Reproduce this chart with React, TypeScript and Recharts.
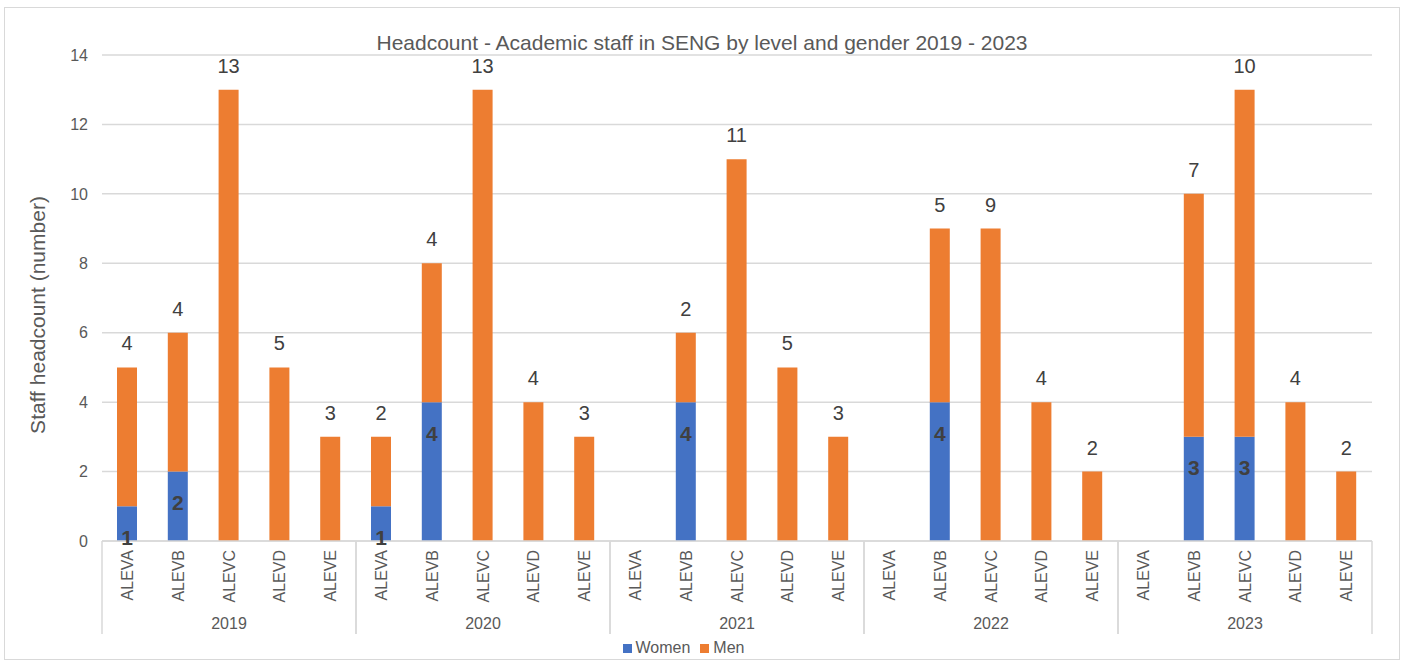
import { Bar, BarChart, CartesianGrid, LabelList, Legend, XAxis, YAxis } from "recharts";

const years = ["2019", "2020", "2021", "2022", "2023"];
const levels = ["ALEVA", "ALEVB", "ALEVC", "ALEVD", "ALEVE"];

// headcount per year, in level order A..E
const women = [
    [1, 2, 0, 0, 0],
    [1, 4, 0, 0, 0],
    [0, 4, 0, 0, 0],
    [0, 4, 0, 0, 0],
    [0, 3, 3, 0, 0],
];
const men = [
    [4, 4, 13, 5, 3],
    [2, 4, 13, 4, 3],
    [0, 2, 11, 5, 3],
    [0, 5, 9, 4, 2],
    [0, 7, 10, 4, 2],
];

const yTicks = [0, 2, 4, 6, 8, 10, 12, 14];
const seriesOrder = ["Women", "Men"];

const data = years.flatMap((year, yi) =>
    levels.map((level, li) => ({
        key: `${year}-${level}`,
        year,
        level,
        Women: women[yi][li] || null,
        Men: men[yi][li] || null,
    }))
);

const FONT = '"Liberation Sans", Arial, sans-serif';
const GRID = "#d9d9d9";
const TEXT = "#595959";

function CategoryTick(props: any) {
    const { x, y, payload, index } = props;
    const half = payload?.offset || 25.4;
    const row = data[index];
    const pos = index % levels.length;
    return (
        <g>
            <text
                x={x}
                y={y + 9}
                transform={`rotate(-90 ${x} ${y + 9})`}
                textAnchor="end"
                dominantBaseline="central"
                fill={TEXT}
                fontSize={16}
                fontFamily={FONT}
            >
                {row.level}
            </text>
            {pos === 0 && <line x1={x - half} x2={x - half} y1={y} y2={y + 93} stroke={GRID} strokeWidth={1.5} />}
            {pos === levels.length - 1 && (
                <line x1={x + half} x2={x + half} y1={y} y2={y + 93} stroke={GRID} strokeWidth={1.5} />
            )}
            {pos === 2 && (
                <text x={x} y={y + 82} textAnchor="middle" dominantBaseline="central" fill={TEXT} fontSize={16} fontFamily={FONT}>
                    {row.year}
                </text>
            )}
        </g>
    );
}

function MenLabel(props: any) {
    const { x, y, width, value } = props;
    if (!value) return null;
    return (
        <text x={x + width / 2} y={y - 24} textAnchor="middle" dominantBaseline="central" fill="#404040" fontSize={20} fontFamily={FONT}>
            {value}
        </text>
    );
}

function WomenLabel(props: any) {
    const { x, y, width, value } = props;
    if (!value) return null;
    return (
        <text
            x={x + width / 2}
            y={y + 31}
            textAnchor="middle"
            dominantBaseline="central"
            fill="#404040"
            fontSize={21}
            fontWeight="bold"
            fontFamily={FONT}
        >
            {value}
        </text>
    );
}

function AxisTitle(props: any) {
    const vb = props.viewBox || { y: 47, height: 486 };
    const cy = vb.y + vb.height / 2 + 17;
    return (
        <text x={32} y={cy} transform={`rotate(-90 32 ${cy})`} textAnchor="middle" dominantBaseline="central" fill={TEXT} fontSize={21} fontFamily={FONT}>
            Staff headcount (number)
        </text>
    );
}

export default function App() {
    return (
        <div
            style={{
                position: "absolute",
                left: 4,
                top: 7,
                width: 1396,
                height: 653,
                border: `1px solid ${GRID}`,
                boxSizing: "border-box",
                background: "#fff",
                fontFamily: FONT,
            }}
        >
            <div
                style={{
                    position: "absolute",
                    left: 0,
                    right: 0,
                    top: 23,
                    textAlign: "center",
                    fontSize: 21,
                    color: TEXT,
                    lineHeight: "24px",
                }}
            >
                Headcount - Academic staff in SENG by level and gender 2019 - 2023
            </div>
            <BarChart
                width={1394}
                height={651}
                data={data}
                margin={{ top: 47, right: 27, left: 0, bottom: 3 }}
                barSize={20}
            >
                <CartesianGrid vertical={false} stroke={GRID} strokeWidth={1.5} />
                <XAxis
                    dataKey="key"
                    interval={0}
                    height={98}
                    tickLine={false}
                    tickSize={0}
                    tickMargin={0}
                    axisLine={{ stroke: GRID, strokeWidth: 1.5 }}
                    tick={<CategoryTick />}
                />
                <YAxis
                    width={97}
                    domain={[0, 14]}
                    ticks={yTicks}
                    axisLine={false}
                    tickLine={false}
                    tickSize={0}
                    tickMargin={14}
                    tick={{ fill: TEXT, fontSize: 16, fontFamily: FONT }}
                    label={<AxisTitle />}
                />
                <Legend
                    verticalAlign="bottom"
                    iconType="square"
                    iconSize={9}
                    itemSorter={(item: any) => seriesOrder.indexOf(item.value)}
                    wrapperStyle={{ fontSize: 16, fontFamily: FONT, color: TEXT, lineHeight: "17px" }}
                    formatter={(value) => <span style={{ color: TEXT }}>{value}</span>}
                />
                <Bar dataKey="Women" stackId="g" fill="#4472C4" isAnimationActive={false}>
                    <LabelList dataKey="Women" content={<WomenLabel />} />
                </Bar>
                <Bar dataKey="Men" stackId="g" fill="#ED7D31" isAnimationActive={false}>
                    <LabelList dataKey="Men" content={<MenLabel />} />
                </Bar>
            </BarChart>
        </div>
    );
}
